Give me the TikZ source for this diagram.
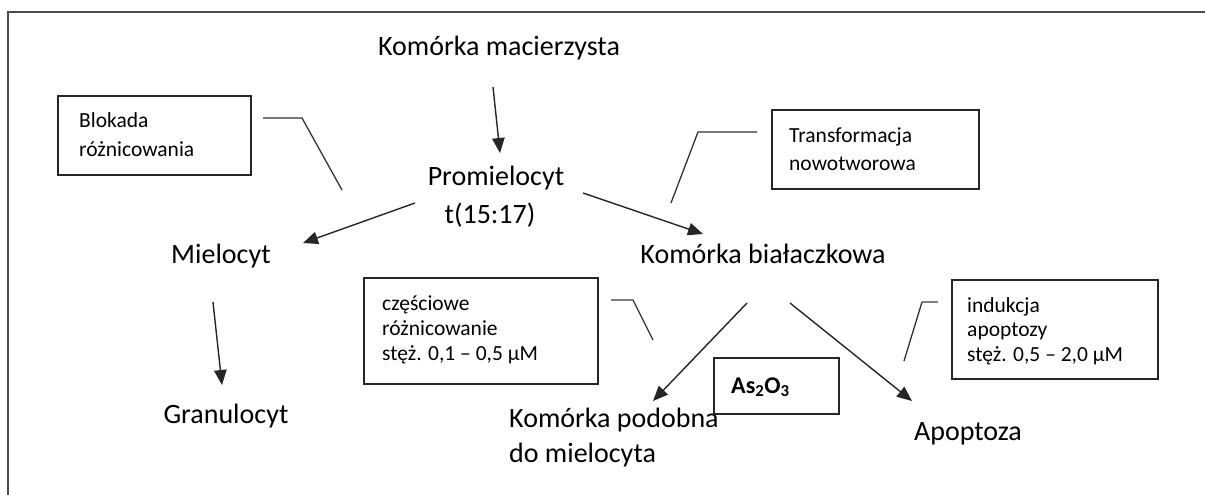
\documentclass[tikz,border=0pt]{standalone}
\usepackage{fontspec}
\setmainfont{Carlito}
\usetikzlibrary{arrows.meta}
\begin{document}
\begin{tikzpicture}[x=1pt,y=-1pt,
  maintext/.style={anchor=base,inner sep=0pt,font=\fontsize{28}{33}\selectfont},
  mainleft/.style={anchor=base west,inner sep=0pt,font=\fontsize{28}{33}\selectfont},
  smalltext/.style={anchor=base west,inner sep=0pt,font=\fontsize{21.5}{25}\selectfont},
  notebox/.style={draw=black!85,line width=1.4pt,rectangle,inner sep=0pt},
  callout/.style={draw=black!80,line width=1.3pt},
  callgray/.style={draw=black!50,line width=2pt},
  arr/.style={draw=black!85,line width=1.4pt,-{Triangle[length=15pt,width=12.5pt]}}]
\useasboundingbox (0,0) rectangle (1205,495);
% frame (only top and left visible)
\draw[black!70,line width=1.3pt] (8,500) -- (8,12) -- (1215,12);

% main texts
\node[maintext] (km) at (499,56) {Komórka macierzysta};
\node[maintext] (pro) at (496,185) {Promielocyt};
\node[maintext] (tl) at (490,223) {t(15:17)};
\node[maintext] (mie) at (221,263) {Mielocyt};
\node[maintext] (gra) at (226,423) {Granulocyt};
\node[maintext] (kb) at (763,263) {Komórka białaczkowa};
\node[mainleft] (kp1) at (509,427) {Komórka podobna};
\node[mainleft] (kp2) at (509,462) {do mielocyta};
\node[maintext] (apo) at (968,440) {Apoptoza};

% boxes
\node[notebox,minimum width=193pt,minimum height=79pt] (b1) at (154.5,135.5) {};
\node[smalltext] (b1a) at (79,127) {Blokada};
\node[smalltext] (b1b) at (79,156) {różnicowania};

\node[notebox,minimum width=207pt,minimum height=79pt] (b2) at (875.5,149.5) {};
\node[smalltext] (b2a) at (789,142) {Transformacja};
\node[smalltext] (b2b) at (789,170) {nowotworowa};

\node[notebox,minimum width=234pt,minimum height=106pt] (b3) at (481,331) {};
\node[smalltext] (b3a) at (382,310) {częściowe};
\node[smalltext] (b3b) at (382,335) {różnicowanie};
\node[smalltext] (b3c) at (382,360) {stęż. 0,1 – 0,5 µM};

\node[notebox,minimum width=206pt,minimum height=99pt] (b4) at (1055,329.5) {};
\node[smalltext] (b4a) at (967,312) {indukcja};
\node[smalltext] (b4b) at (967,336) {apoptozy};
\node[smalltext] (b4c) at (967,361) {stęż. 0,5 – 2,0 µM};

\node[notebox,minimum width=125pt,minimum height=56pt] (b5) at (776.5,386) {};
\node[smalltext,font=\fontsize{24}{28}\selectfont\bfseries] (as) at (731,393) {As\textsubscript{2}O\textsubscript{3}};

% callout lines
\coordinate (c1a) at (263,118); \coordinate (c1b) at (302,118); \coordinate (c1c) at (342,190);
\draw[callout] (c1a) -- (c1b) -- (c1c);
\coordinate (c2a) at (757,132); \coordinate (c2b) at (698,132); \coordinate (c2c) at (671,203);
\draw[callout] (c2a) -- (c2b) -- (c2c);
\coordinate (c3a) at (611,300); \coordinate (c3b) at (633,300); \coordinate (c3c) at (653,340);
\draw[callgray] (c3a) -- (c3b);
\draw[callout] (c3b) -- (c3c);
\coordinate (c4a) at (938,302); \coordinate (c4b) at (922,302); \coordinate (c4c) at (904,361);
\draw[callgray] (c4a) -- (c4b);
\draw[callout] (c4b) -- (c4c);

% arrows
\coordinate (s1) at (493,87);  \coordinate (e1) at (500,153);
\coordinate (s2) at (415,203); \coordinate (e2) at (303,243);
\coordinate (s3) at (583,193); \coordinate (e3) at (703,234);
\coordinate (s4) at (213,302); \coordinate (e4) at (222,385);
\coordinate (s5) at (747,303); \coordinate (e5) at (653,401);
\coordinate (s6) at (790,303); \coordinate (e6) at (912,401);
\draw[arr] (s1) -- (e1);
\draw[arr] (s2) -- (e2);
\draw[arr] (s3) -- (e3);
\draw[arr] (s4) -- (e4);
\draw[arr] (s5) -- (e5);
\draw[arr] (s6) -- (e6);
\end{tikzpicture}
\end{document}
